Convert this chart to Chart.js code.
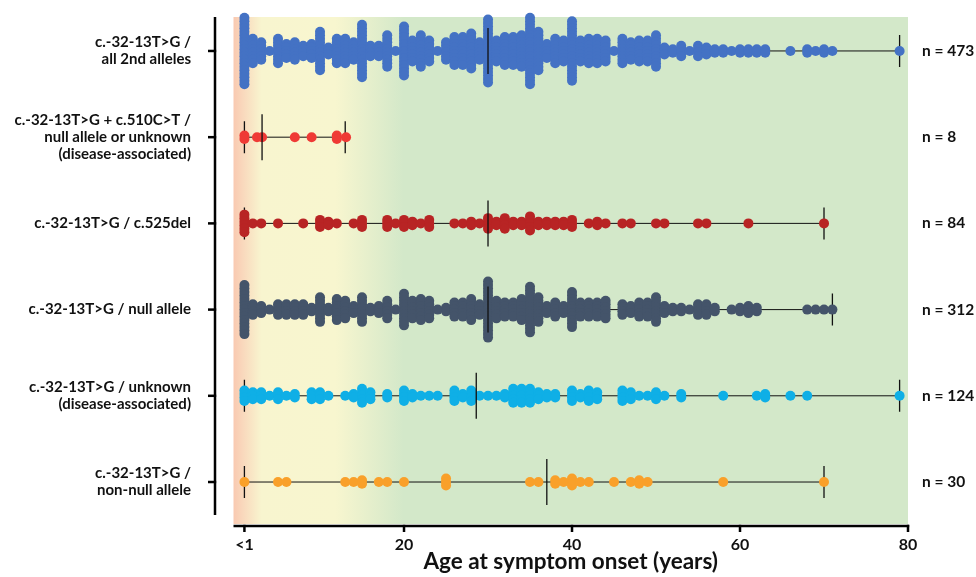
<!DOCTYPE html>
<html><head><meta charset="utf-8">
<script src="https://cdn.jsdelivr.net/npm/chart.js@4/dist/chart.umd.min.js"></script>
<style>html,body{margin:0;padding:0;background:#fff}#wrap{width:976px;height:577px;position:relative}</style>
</head><body><div id="wrap"><canvas id="c" width="976" height="577"></canvas></div>
<script>
// ---- data ----
const categories = [
  ["c.-32-13T>G /", "all 2nd alleles"],
  ["c.-32-13T>G + c.510C>T /", "null allele or unknown", "(disease-associated)"],
  "c.-32-13T>G / c.525del",
  "c.-32-13T>G / null allele",
  ["c.-32-13T>G / unknown", "(disease-associated)"],
  ["c.-32-13T>G /", "non-null allele"]
];
const nLabels = ["n = 473", "n = 8", "n = 84", "n = 312", "n = 124", "n = 30"];
const seriesColors = ["#4472c4", "#ef3a35", "#b82424", "#44546a", "#0fafe6", "#f9a02a"];

const ages1 = [1,2,3,4,5,6,7,8,9,10,11,12,13,14,15,16,17,18,19,20,21,22,23,24,25,26,27,28,29,30,31,32,33,34,35,36,37,38,39,40,41,42,43,44,45,46,47,48,49,50,51,52,53,54,55,56,57,58,59,60,61,62,63,66,68,69,70,71,79];
const count1 = [20,8,6,1,8,5,6,4,5,12, 3,8,8,6,16,4,4,10,1,15, 7,10,7,1,6,9,9,11,6,19, 7,9,9,10,20,12,5,8,7,18, 7,8,8,7,1,8,6,7,7,10, 3,2,4,1,4,3,2,2,1,2,2,2,2, 1,2,1,2,1,1];

const ages2 = [1,2.5,3.1,7,9,12,13.1];
const count2 = [2,1,1,1,1,2,1];

const ages3 = [1,2,3,5,8,10,11,12,14,15,18,19,20,21,22,23,26,27,28,29,30,31,32,33,34,35,36,37,38,39,40,42,43,44,46,47,50,51,55,56,61,70];
const count3 = [6,1,1,1,1,3,2,1,1,3,3,1,3,2,1,3,1,1,2,1,4,2,4,2,2,5,2,2,2,2,3,1,2,1,1,1,1,1,1,1,1,1];

const ages4 = [1,2,3,4,5,6,7,8,9,10,11,12,13,14,15,16,17,18,19,20,21,22,23,24,25,26,27,28,29,30,31,32,33,34,35,36,37,38,39,40,41,42,43,44,46,47,48,49,50,51,52,53,54,55,56,57,59,60,61,62,68,69,70,71];
const count4 = [15,4,3,1,4,4,4,4,2,8, 2,7,6,3,8,2,3,6,1,10, 6,7,6,1,2,5,5,7,4,17, 6,5,5,7,14,8,3,5,3,11, 5,5,5,6, 4,3,5,5,8,3,2,2,1,4,4,2, 1,2,3,2, 1,1,1,1];

const ages5 = [1,2,3,4,5,6,7,9,10,11,13,14,15,16,18,20,21,22,23,24,26,27,28,29,30,31,32,33,34,35,36,37,38,40,41,42,43,46,47,48,49,50,51,53,58,62,63,66,68,79];
const count5 = [4,3,3,1,3,1,2,3,3,1,1,2,5,3,2,4,2,1,1,1,4,2,4,1,1,1,2,5,5,5,3,2,2,4,2,4,3,4,3,1,1,3,1,2,1,1,2,1,1,1];

const ages6 = [1,5,6,13,14,15,17,18,20,25,35,36,38,39,40,41,42,45,47,48,49,58,70];
const count6 = [1,1,1,1,1,2,1,1,1,3,1,1,2,1,3,1,1,1,1,2,1,1,1];

const medians = [30, 3.1, 30, 30, 28.6, 37];
const rangeMin = [1, 1, 1, 1, 1, 1];
const rangeMax = [79, 13, 70, 71, 79, 70];

const xTickValues = [1, 20, 40, 60, 80];
const xTickLabels = ["<1", "20", "40", "60", "80"];

const seriesAges = [ages1, ages2, ages3, ages4, ages5, ages6];
const seriesCounts = [count1, count2, count3, count4, count5, count6];

// ---- styling constants ----
const DOT_R = 5;
const DOT_STEP = 3.5;   // px between stacked dots
const MED_HALF = 23;    // px
const CAP_HALF = 16;    // px
const FONT = "Lato, 'Open Sans', sans-serif";

function buildDatasets(ppu) {
  const ds = [];
  seriesAges.forEach((ages, r) => {
    ds.push({type: 'line', data: [{x: rangeMin[r], y: r}, {x: rangeMax[r], y: r}],
      borderColor: '#111', borderWidth: 1, pointRadius: 0, order: 5, clip: false});
    [rangeMin[r], rangeMax[r]].forEach(v => {
      ds.push({type: 'line', data: [{x: v, y: r - CAP_HALF / ppu}, {x: v, y: r + CAP_HALF / ppu}],
        borderColor: '#111', borderWidth: 1.3, pointRadius: 0, order: 4, clip: false});
    });
    const pts = [];
    ages.forEach((a, i) => {
      const n = seriesCounts[r][i];
      for (let k = 0; k < n; k++) {
        const off = (k - (n - 1) / 2) * DOT_STEP;
        pts.push({x: a, y: r + off / ppu});
      }
    });
    ds.push({type: 'scatter', data: pts, backgroundColor: seriesColors[r], borderWidth: 0,
      pointRadius: DOT_R, pointHoverRadius: DOT_R, order: 3, clip: false});
    ds.push({type: 'line', data: [{x: medians[r], y: r - MED_HALF / ppu}, {x: medians[r], y: r + MED_HALF / ppu}],
      borderColor: '#111', borderWidth: 1.3, pointRadius: 0, order: 1, clip: false});
  });
  return ds;
}

const bgPlugin = {
  id: 'bg',
  beforeDatasetsDraw(chart) {
    const {ctx, chartArea: a} = chart;
    const w = a.right - a.left;
    const g = ctx.createLinearGradient(a.left, 0, a.right, 0);
    g.addColorStop(0, '#f9c9b1');
    g.addColorStop(8 / w, '#f9d6bb');
    g.addColorStop(28 / w, '#f8f5cf');
    g.addColorStop(102 / w, '#f8f6cf');
    g.addColorStop(170 / w, '#d3e8c9');
    g.addColorStop(1, '#d3e8c9');
    ctx.save();
    ctx.fillStyle = g;
    ctx.fillRect(a.left, a.top, w, a.bottom - a.top);
    ctx.restore();
  }
};

const axesPlugin = {
  id: 'axes',
  afterDatasetsDraw(chart) {
    const {ctx, chartArea: a, scales} = chart;
    ctx.save();
    ctx.strokeStyle = '#000';
    ctx.lineWidth = 2.5;
    ctx.lineCap = 'butt';
    const yx = a.left - 18.5;
    ctx.beginPath();
    ctx.moveTo(yx, a.top);
    ctx.lineTo(yx, a.bottom - 9);
    ctx.stroke();
    categories.forEach((c, i) => {
      const py = scales.y.getPixelForValue(i);
      ctx.beginPath();
      ctx.moveTo(yx - 7, py);
      ctx.lineTo(yx + 1.2, py);
      ctx.stroke();
    });
    const xy = a.bottom + 2;
    ctx.beginPath();
    ctx.moveTo(a.left, xy);
    ctx.lineTo(a.right + 1.2, xy);
    ctx.stroke();
    xTickValues.forEach(v => {
      const px = scales.x.getPixelForValue(v);
      ctx.beginPath();
      ctx.moveTo(px, xy - 1.2);
      ctx.lineTo(px, xy + 6);
      ctx.stroke();
    });
    ctx.restore();
  }
};

const Y_MIN = -0.394, Y_MAX = 5.487;
function noPad(s) { s.paddingTop = 0; s.paddingBottom = 0; s.paddingLeft = 0; s.paddingRight = 0; }

const chart = new Chart(document.getElementById('c'), {
  data: {datasets: buildDatasets(86.2)},
  options: {
    responsive: false,
    animation: false,
    devicePixelRatio: 1,
    layout: {padding: {top: 17, left: 0, right: 0, bottom: 0}},
    plugins: {legend: {display: false}, tooltip: {enabled: false}},
    events: [],
    scales: {
      x: {
        type: 'linear', position: 'bottom', min: -0.3, max: 80,
        afterFit(s) { s.height = 53; noPad(s); },
        afterBuildTicks(s) { s.ticks = xTickValues.map(v => ({value: v})); },
        grid: {display: false, drawTicks: false},
        border: {display: false},
        ticks: {
          autoSkip: false, maxRotation: 0, padding: 11, color: '#111',
          font: {family: FONT, size: 16, weight: 'bold'},
          callback: (v) => xTickLabels[xTickValues.indexOf(v)]
        },
        title: {display: true, text: 'Age at symptom onset (years)', color: '#111',
          font: {family: FONT, size: 22.5, weight: 'bold', lineHeight: 1.2}, padding: {top: 0, bottom: 1.5}}
      },
      y: {
        type: 'linear', position: 'left', min: Y_MIN, max: Y_MAX, reverse: true,
        afterFit(s) { s.width = 233.5; noPad(s); },
        afterBuildTicks(s) { s.ticks = categories.map((c, i) => ({value: i})); },
        grid: {display: false, drawTicks: false},
        border: {display: false},
        ticks: {
          autoSkip: false, padding: 42.5, color: '#111',
          font: {family: FONT, size: 15, weight: 'bold', lineHeight: 1.15},
          callback: (v) => categories[v]
        }
      },
      y2: {
        type: 'linear', position: 'right', min: Y_MIN, max: Y_MAX, reverse: true,
        afterFit(s) { s.width = 68; noPad(s); },
        afterBuildTicks(s) { s.ticks = nLabels.map((c, i) => ({value: i})); },
        grid: {display: false, drawTicks: false},
        border: {display: false},
        ticks: {
          autoSkip: false, padding: 14, color: '#111',
          font: {family: FONT, size: 15.5, weight: 'bold'},
          callback: (v) => nLabels[v]
        }
      }
    }
  },
  plugins: [bgPlugin, axesPlugin]
});

const ppu = Math.abs(chart.scales.y.getPixelForValue(1) - chart.scales.y.getPixelForValue(0));
chart.data.datasets = buildDatasets(ppu);
chart.update('none');
</script>
</body></html>
